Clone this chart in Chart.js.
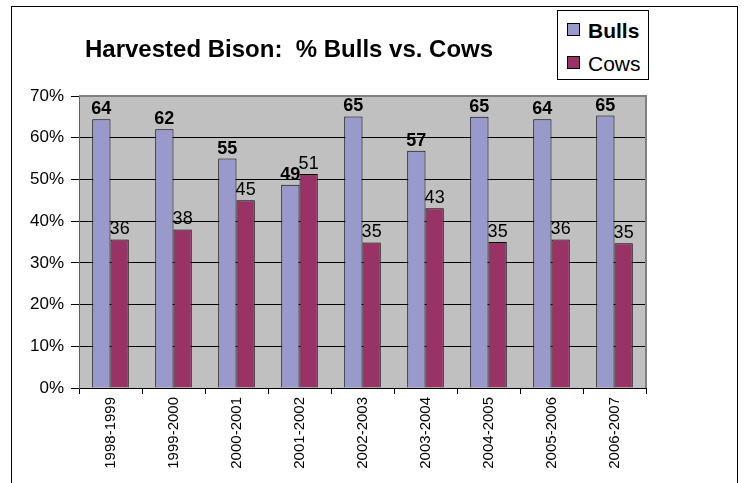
<!DOCTYPE html>
<html>
<head>
<meta charset="utf-8">
<script src="https://cdn.jsdelivr.net/npm/chart.js@4/dist/chart.umd.min.js"></script>
<style>
  html, body { margin: 0; padding: 0; background: #fff; }
  body { width: 744px; height: 483px; position: relative; overflow: hidden; font-family: "Liberation Sans", Arial, sans-serif; }
  #frame { position: absolute; left: 11px; top: 6px; width: 727px; height: 500px; border: 1px solid #000; box-sizing: border-box; }
  #c { position: absolute; left: 0; top: 0; }
  #title { position: absolute; left: 85px; top: 37px; font-weight: bold; font-size: 24px; line-height: 24px; white-space: pre; color: #000; }
  #legend { position: absolute; left: 557px; top: 10px; width: 92px; height: 70px; border: 1px solid #000; box-sizing: border-box; background: #fff; }
  .sw { position: absolute; left: 9px; width: 13px; height: 13px; border: 1px solid #000; box-sizing: border-box; }
  .lt { position: absolute; left: 30px; font-size: 21px; line-height: 21px; white-space: pre; color: #000; }
</style>
</head>
<body>
<div id="frame"></div>
<canvas id="c" width="744" height="483"></canvas>
<div id="title">Harvested Bison:  % Bulls vs. Cows</div>
<div id="legend">
  <div class="sw" style="top:12px;background:#9999CC"></div>
  <div class="lt" style="top:9px;font-weight:bold">Bulls</div>
  <div class="sw" style="top:45px;background:#993366"></div>
  <div class="lt" style="top:42px">Cows</div>
</div>
<script>
const seasons = ["1998-1999","1999-2000","2000-2001","2001-2002","2002-2003","2003-2004","2004-2005","2005-2006","2006-2007"];
const bulls = [64.4, 62, 55, 48.7, 65.1, 56.9, 65, 64.4, 65.3];
const cows  = [35.6, 38, 45, 51.3, 34.9, 43.1, 35, 35.6, 34.7];
const yTicks = [0, 10, 20, 30, 40, 50, 60, 70];

const FONT = '"Liberation Sans", Arial, sans-serif';

const plotBg = {
  id: 'plotBg',
  beforeDraw(chart) {
    const a = chart.chartArea, ctx = chart.ctx;
    ctx.save();
    ctx.fillStyle = '#C0C0C0';
    ctx.fillRect(a.left, a.top, a.right - a.left, a.bottom - a.top);
    ctx.restore();
  },
  beforeDatasetsDraw(chart) {
    const a = chart.chartArea, ctx = chart.ctx;
    ctx.save();
    ctx.strokeStyle = '#808080';
    ctx.lineWidth = 2;
    ctx.beginPath();
    ctx.moveTo(a.left, a.top); ctx.lineTo(a.right, a.top); ctx.lineTo(a.right, a.bottom);
    ctx.stroke();
    ctx.restore();
  }
};

const valueLabels = {
  id: 'valueLabels',
  afterDatasetsDraw(chart) {
    const ctx = chart.ctx;
    ctx.save();
    ctx.fillStyle = '#000';
    ctx.textAlign = 'center';
    ctx.textBaseline = 'alphabetic';
    chart.data.datasets.forEach((ds, i) => {
      const meta = chart.getDatasetMeta(i);
      ctx.font = (i === 0 ? 'bold ' : '') + '18px ' + FONT;
      meta.data.forEach((bar, j) => {
        ctx.fillText(String(Math.round(ds.data[j])), bar.x, bar.y - 5);
      });
    });
    ctx.restore();
  }
};

new Chart(document.getElementById('c'), {
  type: 'bar',
  data: {
    labels: seasons,
    datasets: [
      { label: 'Bulls', data: bulls, backgroundColor: '#9999CC', borderColor: '#000', borderWidth: 1 },
      { label: 'Cows', data: cows, backgroundColor: '#993366', borderColor: '#000', borderWidth: 1 }
    ]
  },
  options: {
    responsive: false,
    devicePixelRatio: 1,
    animation: false,
    layout: { padding: { left: 0, top: 96, right: 98, bottom: 0 } },
    datasets: { bar: { categoryPercentage: 0.58, barPercentage: 1.0 } },
    plugins: { legend: { display: false }, title: { display: false }, tooltip: { enabled: false } },
    scales: {
      x: {
        grid: { drawOnChartArea: false, drawTicks: true, tickLength: 6, tickColor: '#000', offset: true },
        border: { color: '#000', width: 1 },
        ticks: { minRotation: 90, maxRotation: 90, autoSkip: false, padding: 3, color: '#000', font: { family: FONT, size: 15 } },
        afterFit(s) { s.height = 95; }
      },
      y: {
        min: 0, max: 70,
        afterBuildTicks(s) { s.ticks = yTicks.map(v => ({ value: v })); },
        grid: { color: '#000', tickColor: '#000', tickLength: 8, lineWidth: 1 },
        border: { color: '#606060', width: 1 },
        ticks: { padding: 7, color: '#000', font: { family: FONT, size: 17 }, callback: v => v + '%' },
        afterFit(s) { s.width = 79; }
      }
    }
  },
  plugins: [plotBg, valueLabels]
});
</script>
</body>
</html>
